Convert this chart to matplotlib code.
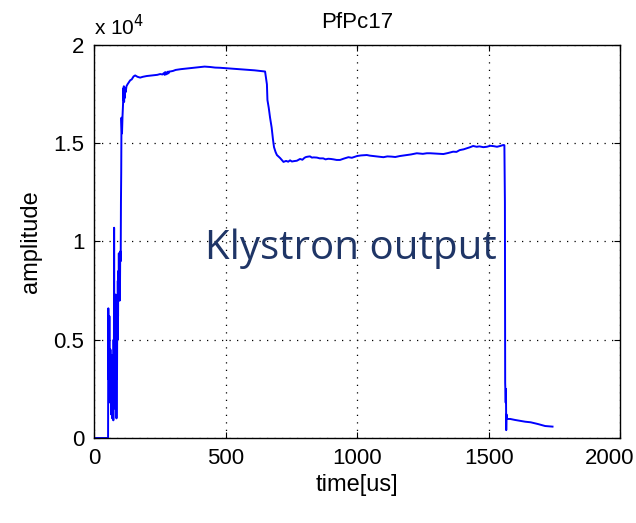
import matplotlib
matplotlib.use("Agg")
import matplotlib.pyplot as plt
import matplotlib.transforms as mtransforms
from matplotlib.ticker import FuncFormatter

# klystron output envelope, time in us, amplitude in raw counts (x 1e4)
# turn-on with the noisy start
t_rise = [0, 53, 54, 55, 56, 57, 58, 59, 60, 61, 62, 63, 64, 65, 66, 67, 68,
          69, 70, 71, 72, 73, 74, 75, 76, 77, 78, 79, 80, 81, 82, 83, 84, 85,
          86, 87, 88, 89, 90, 91, 92, 93, 94, 95, 96, 97, 98, 99, 100, 101,
          102, 103, 104]
a_rise = [0, 0,
          6600, 3000, 5500, 2000, 6200, 2500, 4000, 1800, 4500, 2200,
          3800, 1200, 3500, 2000, 4200, 1000, 3000, 2000, 3600, 900,
          5000, 2500, 10700, 3000, 6000, 1500, 7000, 3500, 7300, 2000,
          5500, 1000, 4500, 3000, 6500, 5000, 8000, 6200, 8500, 7000,
          9400, 7000, 9000, 7200, 7000, 9000, 9500, 9000, 12000, 13500,
          16300]
# first flat top
t_top = [106, 108, 110, 111, 112, 113, 114, 115, 116, 118,
         120, 123, 127, 132, 137, 143, 150, 156, 165, 175,
         185, 200, 220, 240, 251, 260, 265, 268, 270, 273,
         275, 278, 280, 283, 285, 289, 300, 310, 330, 350,
         365, 380, 400, 420, 441, 460, 479, 500, 520, 540,
         567, 590, 610, 631, 645, 650]
a_top = [15500, 16400, 17000, 17800, 17200, 17900, 17100, 17700, 17300, 17800,
         17600, 17900, 18000, 18100, 18200, 18250, 18400, 18450, 18380, 18340,
         18380, 18420, 18450, 18480, 18520, 18500, 18570, 18480, 18620, 18500,
         18600, 18530, 18640, 18560, 18650, 18650, 18680, 18730, 18770, 18800,
         18820, 18850, 18880, 18900, 18880, 18850, 18840, 18820, 18800, 18780,
         18760, 18730, 18710, 18680, 18660, 18650]
# step down
t_fall = [657, 659, 664, 669, 675, 680, 684, 690, 695, 707, 720]
a_fall = [18000, 17200, 16800, 16300, 15800, 15200, 14800, 14550, 14400,
          14250, 14050]
# second flat top
t_flat = [730, 738, 745, 752, 760, 771, 783, 792, 800, 806,
          814, 821, 828, 835, 847, 858, 871, 880, 890, 900,
          910, 922, 935, 950, 967, 980, 1000, 1015, 1037, 1048,
          1060, 1080, 1100, 1115, 1130, 1145, 1163, 1190, 1205, 1227,
          1250, 1265, 1278, 1300, 1328, 1345, 1365, 1378, 1390, 1405,
          1417, 1430, 1441, 1455, 1465, 1480, 1493, 1507, 1520, 1532,
          1544, 1556, 1560]
a_flat = [14100, 14060, 14130, 14070, 14090, 14110, 14200, 14160, 14260, 14300,
          14320, 14330, 14270, 14280, 14270, 14230, 14230, 14180, 14210, 14200,
          14180, 14150, 14150, 14220, 14290, 14260, 14350, 14380, 14400, 14370,
          14350, 14320, 14290, 14330, 14320, 14300, 14350, 14400, 14430, 14490,
          14460, 14490, 14490, 14470, 14450, 14500, 14570, 14560, 14650, 14690,
          14740, 14800, 14860, 14820, 14840, 14800, 14820, 14870, 14850, 14820,
          14860, 14910, 14900]
# switch-off and decay tail
t_tail = [1562, 1563, 1564, 1565, 1566, 1567, 1568, 1570, 1582, 1600, 1639,
          1660, 1688, 1715, 1743]
a_tail = [12000, 2800, 2200, 1800, 2500, 400, 1200, 970, 970, 920, 830,
          800, 710, 610, 580]

t_us = t_rise + t_top + t_fall + t_flat + t_tail
amp = a_rise + a_top + a_fall + a_flat + a_tail

xticks = [0, 500, 1000, 1500, 2000]
yticks = [0, 5000, 10000, 15000, 20000]

plt.rcParams['font.family'] = ['Liberation Sans', 'DejaVu Sans']

fig = plt.figure(figsize=(6.36, 5.23), dpi=100)
ax = fig.add_axes([0.148, 0.1625, 0.827, 0.7515])

ax.plot(t_us, amp, color=(0, 0, 1), lw=1.4)

ax.set_xlim(0, 2000)
ax.set_ylim(0, 20000)
ax.set_xticks(xticks)
ax.set_yticks(yticks)
ax.yaxis.set_major_formatter(FuncFormatter(lambda v, p: f"{v / 1e4:g}"))
ax.tick_params(direction='in', top=True, right=True, labelsize=16, length=4,
               width=0.8, pad=7)
ax.grid(True, color='black', linestyle=(0, (1, 5)), linewidth=0.9)
for s in ax.spines.values():
    s.set_linewidth(1.0)

# keep the last x label inside the figure
last = ax.xaxis.get_major_ticks()[-1].label1
last.set_ha('right')
last.set_transform(last.get_transform() +
                   mtransforms.ScaledTranslation(0.145, 0, fig.dpi_scale_trans))

ax.set_xlabel('time[us]', fontsize=17, labelpad=4)
ax.set_ylabel('amplitude', fontsize=17, labelpad=8)
ax.set_title('PfPc17', fontsize=16, pad=12)
ax.text(0.0, 1.015, 'x 10$^4$', transform=ax.transAxes, fontsize=15,
        ha='left', va='bottom')

ax.text(977, 9650, 'Klystron output', fontsize=29, color='#1f3566',
        family=['Open Sans', 'DejaVu Sans'], ha='center', va='center')

fig.savefig('out.png', dpi=100)
